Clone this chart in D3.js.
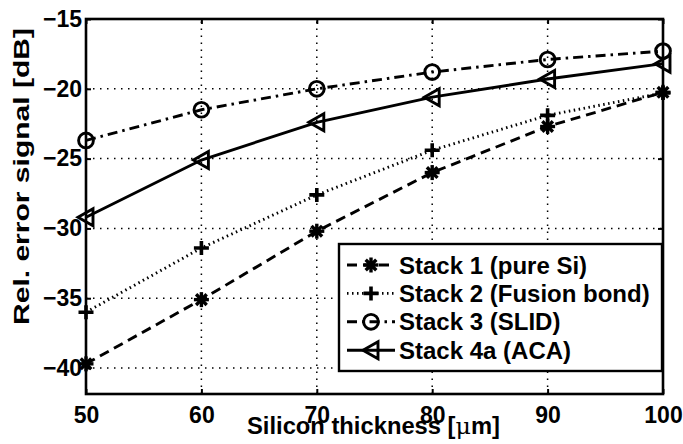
<!DOCTYPE html>
<meta charset="utf-8">
<style>
body { margin: 0; background: #fff; }
svg { display: block; }
.chart text {
  font-family: Arial, "Liberation Sans", sans-serif;
  font-weight: bold;
  fill: #000;
}
</style>
<svg class="chart" width="683" height="444"></svg>
<script src="https://cdn.jsdelivr.net/npm/d3@7"></script>
<script>

// values
var thickness = [50, 60, 70, 80, 90, 100];
var stack1 = [-39.7, -35.1, -30.2, -26.0, -22.7, -20.25];
var stack2 = [-36.0, -31.4, -27.6, -24.4, -21.9, -20.3];
var stack3 = [-23.7, -21.5, -20.0, -18.8, -17.9, -17.3];
var stack4 = [-29.2, -25.1, -22.4, -20.6, -19.3, -18.2];

var seriesNames = ["Stack 1 (pure Si)", "Stack 2 (Fusion bond)", "Stack 3 (SLID)", "Stack 4a (ACA)"];
var xTicks = [50, 60, 70, 80, 90, 100];
var yTicks = [-40, -35, -30, -25, -20, -15];

var series = [
  { name: seriesNames[0], values: stack1, dash: "10,6", marker: "asterisk" },
  { name: seriesNames[1], values: stack2, dash: "1.5,3.5", marker: "plus" },
  { name: seriesNames[2], values: stack3, dash: "10,5,2.5,5", marker: "circle" },
  { name: seriesNames[3], values: stack4, dash: null, marker: "triangle" }
];

// plot box (note: "top" is taken by window.top, so use a prefix)
var plotL = 86, plotR = 663, plotT = 19, plotB = 394;

var x = d3.scaleLinear().domain([50, 100]).range([plotL, plotR]);
var y = d3.scaleLinear().domain([-41.86, -15]).range([plotB, plotT]);

var chart = d3.select(".chart");

// dotted grid
var grid = chart.append("g")
  .attr("stroke", "#000")
  .attr("stroke-width", 1.5)
  .attr("stroke-dasharray", "1.5,5.5");

grid.selectAll("line.gx")
  .data(xTicks.slice(1, -1))
  .enter().append("line")
    .attr("class", "gx")
    .attr("x1", function(d) { return x(d); })
    .attr("x2", function(d) { return x(d); })
    .attr("y1", plotB)
    .attr("y2", plotT);

grid.selectAll("line.gy")
  .data(yTicks.slice(0, -1))
  .enter().append("line")
    .attr("class", "gy")
    .attr("x1", plotL)
    .attr("x2", plotR)
    .attr("y1", function(d) { return y(d); })
    .attr("y2", function(d) { return y(d); });

// axes with inward ticks on all four sides
function styleAxis(g) {
  g.select(".domain").remove();
  g.selectAll(".tick line").attr("stroke", "#000").attr("stroke-width", 2);
  g.selectAll(".tick text")
    .style("font-size", "23px")
    .style("font-family", "Arial, 'Liberation Sans', sans-serif")
    .style("font-weight", "bold");
}

chart.append("g")
  .attr("transform", "translate(0," + plotB + ")")
  .call(d3.axisBottom(x).tickValues(xTicks).tickSizeInner(-5).tickPadding(13).tickFormat(d3.format("d")))
  .call(styleAxis);

chart.append("g")
  .attr("transform", "translate(" + plotL + ",0)")
  .call(d3.axisLeft(y).tickValues(yTicks).tickSizeInner(-5).tickPadding(4)
    .tickFormat(function(d) { return "\u2212" + Math.abs(d); }))
  .call(styleAxis);

chart.append("g")
  .attr("transform", "translate(0," + plotT + ")")
  .call(d3.axisTop(x).tickValues(xTicks).tickSizeInner(-5).tickFormat(""))
  .call(styleAxis);

chart.append("g")
  .attr("transform", "translate(" + plotR + ",0)")
  .call(d3.axisRight(y).tickValues(yTicks).tickSizeInner(-5).tickFormat(""))
  .call(styleAxis);

// box
chart.append("rect")
  .attr("x", plotL)
  .attr("y", plotT)
  .attr("width", plotR - plotL)
  .attr("height", plotB - plotT)
  .attr("fill", "none")
  .attr("stroke", "#000")
  .attr("stroke-width", 2.6);

// marker drawing
function drawMarker(g, type) {
  if (type === "asterisk") {
    [0, 45, 90, 135].forEach(function(a) {
      g.append("line")
        .attr("x1", -7.5).attr("x2", 7.5)
        .attr("transform", "rotate(" + a + ")")
        .attr("stroke", "#000").attr("stroke-width", 3.4);
    });
    g.append("circle").attr("r", 4).attr("fill", "#000");
  } else if (type === "plus") {
    g.append("path")
      .attr("d", "M-7.5,0H7.5M0,-7V7")
      .attr("stroke", "#000").attr("stroke-width", 3.6).attr("fill", "none");
  } else if (type === "circle") {
    g.append("circle")
      .attr("r", 7.4)
      .attr("fill", "none")
      .attr("stroke", "#000").attr("stroke-width", 2.9);
  } else if (type === "triangle") {
    g.append("path")
      .attr("d", "M-8,0L7,-8.5L7,8.5Z")
      .attr("fill", "none")
      .attr("stroke", "#000").attr("stroke-width", 2.9)
      .attr("stroke-linejoin", "miter");
  }
}

var line = d3.line()
  .x(function(d, i) { return x(thickness[i]); })
  .y(function(d) { return y(d); });

series.forEach(function(s) {
  chart.append("path")
    .datum(s.values)
    .attr("d", line)
    .attr("fill", "none")
    .attr("stroke", "#000")
    .attr("stroke-width", 2.9)
    .attr("stroke-dasharray", s.dash);

  chart.selectAll(null)
    .data(s.values)
    .enter().append("g")
      .attr("transform", function(d, i) { return "translate(" + x(thickness[i]) + "," + y(d) + ")"; })
      .each(function() { drawMarker(d3.select(this), s.marker); });
});

// legend
var legend = chart.append("g");

legend.append("rect")
  .attr("x", 339)
  .attr("y", 244)
  .attr("width", 323)
  .attr("height", 127)
  .attr("fill", "#fff")
  .attr("stroke", "#000")
  .attr("stroke-width", 2.4);

var rows = legend.selectAll("g.row")
  .data(series)
  .enter().append("g")
    .attr("class", "row")
    .attr("transform", function(d, i) { return "translate(0," + (265 + i * 28.4) + ")"; });

rows.append("line")
  .attr("x1", 347)
  .attr("x2", 395)
  .attr("stroke", "#000")
  .attr("stroke-width", 2.9)
  .attr("stroke-dasharray", function(d) { return d.dash; });

rows.append("g")
  .attr("transform", "translate(371,0)")
  .each(function(d) { drawMarker(d3.select(this), d.marker); });

rows.append("text")
  .attr("x", 399)
  .attr("y", 8.5)
  .style("font-size", "24px")
  .text(function(d) { return d.name; });

// axis labels
var xlab = chart.append("text")
  .attr("x", 373.5)
  .attr("y", 434)
  .attr("text-anchor", "middle")
  .attr("textLength", 253)
  .attr("lengthAdjust", "spacingAndGlyphs")
  .style("font-size", "23px");
xlab.append("tspan").text("Silicon thickness [");
xlab.append("tspan").style("font-family", "'DejaVu Serif', serif").style("font-weight", "normal").text("\u03bc");
xlab.append("tspan").text("m]");

chart.append("text")
  .attr("transform", "translate(29,176.5) rotate(-90)")
  .attr("text-anchor", "middle")
  .attr("textLength", 297)
  .attr("lengthAdjust", "spacingAndGlyphs")
  .style("font-size", "22px")
  .text("Rel. error signal [dB]");

</script>
